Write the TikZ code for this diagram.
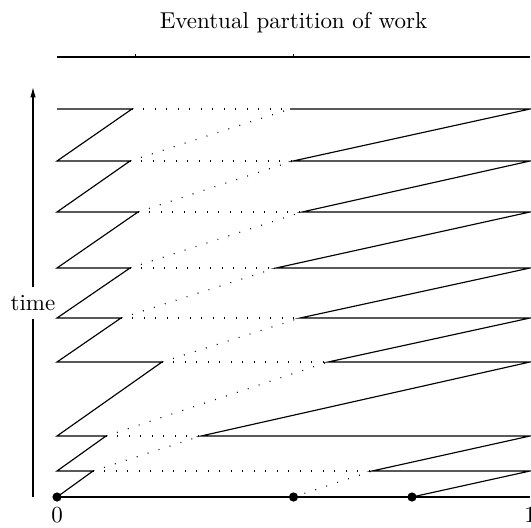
\documentclass[tikz,border=0pt]{standalone}
\usepackage{amsmath}
\usepackage{tikz}
\usetikzlibrary{arrows.meta}

\begin{document}
\begin{tikzpicture}[x=0.435pt, y=-0.435pt, line width=0.5pt, dot/.style = {circle, fill, inner sep=0pt, minimum size=4pt}, dotline/.style = {dash pattern=on 0.4pt off 4.6pt}]
\useasboundingbox (0,0) rectangle (531,527);
\node (title) at (293.5,23) {Eventual partition of work};
\coordinate (p0) at (57,57);
\coordinate (p1) at (135.8,57);
\coordinate (p2) at (293.5,57);
\coordinate (p3) at (530,57);
\draw (p0) -- (p3);
\draw (p1) -- ++(0,-3);
\draw (p2) -- ++(0,-3);
\coordinate (tbot) at (33,497);
\coordinate (ttop) at (33,87);
\node (time) at (33,303) {time};
\draw (tbot) -- (time);
\draw[-{Latex[length=4.5pt,width=2.4pt]}] (time) -- (ttop);
\coordinate (a0) at (57,497);  \coordinate (l0) at (293.5,497); \coordinate (r0) at (412,497); \coordinate (b0) at (530,497);
\coordinate (a1) at (57,471);  \coordinate (l1) at (93,471);  \coordinate (r1) at (372,471); \coordinate (b1) at (530,471);
\coordinate (a2) at (57,436);  \coordinate (l2) at (106,436); \coordinate (r2) at (201,436); \coordinate (b2) at (530,436);
\coordinate (a3) at (57,362);  \coordinate (l3) at (162,362); \coordinate (r3) at (328,362); \coordinate (b3) at (530,362);
\coordinate (a4) at (57,318);  \coordinate (l4) at (121,318); \coordinate (r4) at (300,318); \coordinate (b4) at (530,318);
\coordinate (a5) at (57,268);  \coordinate (l5) at (130,268); \coordinate (r5) at (276,268); \coordinate (b5) at (530,268);
\coordinate (a6) at (57,212);  \coordinate (l6) at (138,212); \coordinate (r6) at (302,212); \coordinate (b6) at (530,212);
\coordinate (a7) at (57,161);  \coordinate (l7) at (130,161); \coordinate (r7) at (293,161); \coordinate (b7) at (530,161);
\coordinate (a8) at (57,109);  \coordinate (l8) at (132,109); \coordinate (r8) at (290,109); \coordinate (b8) at (530,109);
\draw (a0) -- (b0);
\draw (a0) -- (l1) -- (a1) -- (l2) -- (a2) -- (l3) -- (a3) -- (l4) -- (a4) -- (l5) -- (a5) -- (l6) -- (a6) -- (l7) -- (a7) -- (l8) -- (a8);
\draw (r0) -- (b1) -- (r1) -- (b2) -- (r2) -- (b3) -- (r3) -- (b4) -- (r4) -- (b5) -- (r5) -- (b6) -- (r6) -- (b7) -- (r7) -- (b8) -- (r8);
\draw[dotline] (l1) -- (r1);
\draw[dotline] (l2) -- (r2);
\draw[dotline] (l3) -- (r3);
\draw[dotline] (l4) -- (r4);
\draw[dotline] (l5) -- (r5);
\draw[dotline] (l6) -- (r6);
\draw[dotline] (l7) -- (r7);
\draw[dotline] (l8) -- (r8);
\draw[dotline] (l0) -- (r1);
\draw[dotline] (l1) -- (r2);
\draw[dotline] (l2) -- (r3);
\draw[dotline] (l3) -- (r4);
\draw[dotline] (l4) -- (r5);
\draw[dotline] (l5) -- (r6);
\draw[dotline] (l6) -- (r7);
\draw[dotline] (l7) -- (r8);
\node[dot] (d0) at (a0) {};
\node[dot] (d1) at (l0) {};
\node[dot] (d2) at (r0) {};
\node[below=1pt] (zero) at (a0) {0};
\node[below=1pt] (one) at (b0) {1};
\end{tikzpicture}
\end{document}
